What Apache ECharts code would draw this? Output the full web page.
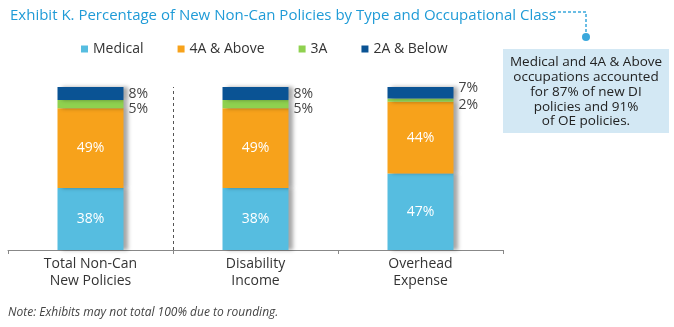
<!DOCTYPE html>
<html>
<head>
<meta charset="utf-8">
<script src="https://cdn.jsdelivr.net/npm/echarts@6/dist/echarts.min.js"></script>
<style>
html,body{margin:0;padding:0;background:#fff;}
#c{width:674px;height:327px;}
</style>
</head>
<body>
<div id="c"></div>
<script>
const categories = ['Total Non-Can\nNew Policies', 'Disability\nIncome', 'Overhead\nExpense'];
const seriesNames = ['Medical', '4A & Above', '3A', '2A & Below'];
const medical = [38, 38, 47];
const above4A = [49, 49, 44];
const class3A = [5, 5, 2];
const below2A = [8, 8, 7];
const colors = ['#56bde0', '#f7a21b', '#8fd14f', '#0a5394'];
const FONT = 'Open Sans';

// vertical nudges for outside labels (style only)
const outsideNudge = {
  '3A': [5, 5, 5],
  '2A & Below': [0, 0, -5]
};

const chart = echarts.init(document.getElementById('c'));

function makeSeries(name, values, color, inside) {
  return {
    name: name,
    type: 'bar',
    stack: 'total',
    barWidth: 66,
    itemStyle: {
      color: color,
      shadowColor: 'rgba(0,0,0,0.35)',
      shadowBlur: 4,
      shadowOffsetX: 4,
      shadowOffsetY: 0
    },
    data: values.map((v, i) => {
      const item = { value: v };
      if (!inside) {
        item.label = { offset: [0, outsideNudge[name][i]] };
      }
      return item;
    }),
    label: inside ? {
      show: true,
      position: 'inside',
      color: '#fff',
      fontSize: 14,
      fontFamily: FONT,
      formatter: '{c}%'
    } : {
      show: true,
      position: 'right',
      distance: 5,
      color: '#444',
      fontSize: 14,
      fontFamily: FONT,
      formatter: '{c}%'
    }
  };
}

const seriesList = [
  makeSeries('Medical', medical, colors[0], true),
  makeSeries('4A & Above', above4A, colors[1], true),
  makeSeries('3A', class3A, colors[2], false),
  makeSeries('2A & Below', below2A, colors[3], false),
  {
    // helper: dashed separator after the first category (on a hidden band-index axis)
    name: 'separator',
    type: 'line',
    xAxisIndex: 1,
    data: [[1, 0]],
    showSymbol: false,
    symbolSize: 0,
    lineStyle: { opacity: 0 },
    silent: true,
    markLine: {
      silent: true,
      symbol: 'none',
      label: { show: false },
      lineStyle: { color: '#555', type: [3, 3], width: 1 },
      data: [{ xAxis: 1 }]
    }
  }
];

const option = {
  animation: false,
  title: {
    text: 'Exhibit K. Percentage of New Non-Can Policies by Type and Occupational Class',
    left: 5,
    top: 3,
    textStyle: { color: '#1f9bd7', fontSize: 15, fontWeight: 'normal', fontFamily: FONT }
  },
  legend: {
    left: 76,
    top: 37,
    itemWidth: 7,
    itemHeight: 7,
    itemGap: 34,
    icon: 'rect',
    textStyle: { color: '#333', fontSize: 14, fontFamily: FONT },
    data: seriesNames
  },
  grid: { left: 8, right: 171, top: 87, bottom: 77 },
  xAxis: [
    {
      type: 'category',
      data: categories,
      axisLine: { lineStyle: { color: '#888', width: 1 } },
      axisTick: { show: true, length: 4, lineStyle: { color: '#888' } },
      splitLine: { show: false },
      axisLabel: { color: '#333', fontSize: 14, fontFamily: FONT, lineHeight: 17, margin: 6 }
    },
    { type: 'value', min: 0, max: categories.length, show: false }
  ],
  yAxis: { type: 'value', min: 0, max: 100, show: false },
  series: seriesList,
  graphic: [
    {
      type: 'polyline',
      shape: { points: [[553, 12], [586, 12], [586, 33]] },
      style: { stroke: '#3aa8dc', lineWidth: 1.5, lineDash: [3, 2], fill: null }
    },
    { type: 'circle', shape: { cx: 586, cy: 37, r: 4 }, style: { fill: '#3aa8dc' } },
    { type: 'rect', shape: { x: 503, y: 49, width: 166, height: 84 }, style: { fill: '#d3e8f4' } },
    {
      type: 'text',
      x: 586, y: 55,
      style: {
        text: 'Medical and 4A & Above\noccupations accounted\nfor 87% of new DI\npolicies and 91%\nof OE policies.',
        fill: '#222', fontSize: 13.5, fontFamily: FONT, lineHeight: 14.8,
        align: 'center', verticalAlign: 'top'
      }
    },
    {
      type: 'text',
      x: 8, y: 307,
      style: {
        text: 'Note: Exhibits may not total 100% due to rounding.',
        fill: '#444', fontSize: 12, fontStyle: 'italic', fontFamily: FONT
      }
    }
  ]
};
chart.setOption(option);
</script>
</body>
</html>
